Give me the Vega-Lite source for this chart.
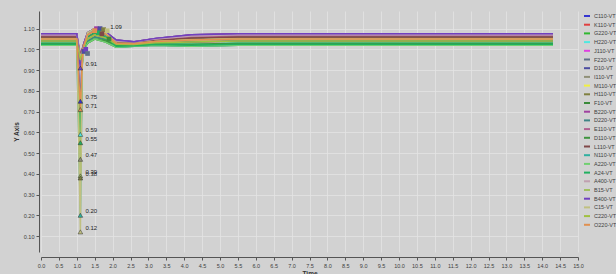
{
  "$schema": "https://vega.github.io/schema/vega-lite/v6.json",
  "autosize": "none",
  "width": 537,
  "height": 241,
  "padding": {"left": 41, "top": 11, "right": 38, "bottom": 22},
  "background": "#d2d2d2",
  "config": {
    "view": {"fill": "#d2d2d2", "stroke": null},
    "font": "Liberation Sans",
    "axis": {"labelFontSize": 5.5, "labelColor": "#404040", "titleFontSize": 6.5, "titleColor": "#333333", "domainColor": "#555555", "tickColor": "#555555", "tickSize": 3, "gridColor": "#e3e3e3", "gridWidth": 0.8, "labelOverlap": false}
  },
  "datasets": {
    "curves": [
      {"t": 0, "C110-VT": 1.05, "K110-VT": 1.04, "G220-VT": 1.03, "H220-VT": 1.03, "J110-VT": 1.07, "F220-VT": 1.07, "D10-VT": 1.075, "I110-VT": 1.06, "M110-VT": 1.05, "H110-VT": 1.06, "F10-VT": 1.02, "B220-VT": 1.075, "D220-VT": 1.04, "E110-VT": 1.065, "D110-VT": 1.03, "L110-VT": 1.06, "N110-VT": 1.02, "A220-VT": 1.02, "A24-VT": 1.025, "A400-VT": 1.07, "B15-VT": 1.05, "B400-VT": 1.075, "C15-VT": 1.05, "C220-VT": 1.04, "O220-VT": 1.05},
      {"t": 1.0, "C110-VT": 1.05, "K110-VT": 1.04, "G220-VT": 1.03, "H220-VT": 1.03, "J110-VT": 1.07, "F220-VT": 1.07, "D10-VT": 1.075, "I110-VT": 1.06, "M110-VT": 1.05, "H110-VT": 1.06, "F10-VT": 1.02, "B220-VT": 1.075, "D220-VT": 1.04, "E110-VT": 1.065, "D110-VT": 1.03, "L110-VT": 1.06, "N110-VT": 1.02, "A220-VT": 1.02, "A24-VT": 1.025, "A400-VT": 1.07, "B15-VT": 1.05, "B400-VT": 1.075, "C15-VT": 1.05, "C220-VT": 1.04, "O220-VT": 1.05},
      {"t": 1.1, "C110-VT": 0.75, "K110-VT": 0.96, "G220-VT": 0.94, "H220-VT": 0.59, "J110-VT": 0.97, "F220-VT": 0.93, "D10-VT": 0.95, "I110-VT": 0.47, "M110-VT": 0.97, "H110-VT": 0.38, "F10-VT": 0.95, "B220-VT": 0.92, "D220-VT": 0.96, "E110-VT": 0.98, "D110-VT": 0.96, "L110-VT": 0.97, "N110-VT": 0.20, "A220-VT": 0.94, "A24-VT": 0.55, "A400-VT": 0.96, "B15-VT": 0.39, "B400-VT": 0.91, "C15-VT": 0.12, "C220-VT": 0.95, "O220-VT": 0.71},
      {"t": 1.15, "C110-VT": 0.96, "K110-VT": 0.99, "G220-VT": 0.98, "H220-VT": 0.95, "J110-VT": 1.0, "F220-VT": 0.97, "D10-VT": 0.99, "I110-VT": 0.94, "M110-VT": 1.0, "H110-VT": 0.93, "F10-VT": 0.98, "B220-VT": 0.97, "D220-VT": 0.99, "E110-VT": 1.0, "D110-VT": 0.99, "L110-VT": 1.0, "N110-VT": 0.92, "A220-VT": 0.98, "A24-VT": 0.94, "A400-VT": 0.99, "B15-VT": 0.93, "B400-VT": 0.97, "C15-VT": 0.92, "C220-VT": 0.98, "O220-VT": 0.95},
      {"t": 1.2, "C110-VT": 1.02, "K110-VT": 1.02, "G220-VT": 1.01, "H220-VT": 1.01, "J110-VT": 1.03, "F220-VT": 1.02, "D10-VT": 1.03, "I110-VT": 1.01, "M110-VT": 1.03, "H110-VT": 1.01, "F10-VT": 1.0, "B220-VT": 1.03, "D220-VT": 1.02, "E110-VT": 1.03, "D110-VT": 1.01, "L110-VT": 1.03, "N110-VT": 1.0, "A220-VT": 1.0, "A24-VT": 1.0, "A400-VT": 1.03, "B15-VT": 1.01, "B400-VT": 1.03, "C15-VT": 1.01, "C220-VT": 1.02, "O220-VT": 1.02},
      {"t": 1.3, "C110-VT": 1.07, "K110-VT": 1.05, "G220-VT": 1.04, "H220-VT": 1.06, "J110-VT": 1.07, "F220-VT": 1.06, "D10-VT": 1.08, "I110-VT": 1.07, "M110-VT": 1.06, "H110-VT": 1.08, "F10-VT": 1.03, "B220-VT": 1.08, "D220-VT": 1.04, "E110-VT": 1.06, "D110-VT": 1.03, "L110-VT": 1.06, "N110-VT": 1.07, "A220-VT": 1.03, "A24-VT": 1.06, "A400-VT": 1.07, "B15-VT": 1.07, "B400-VT": 1.08, "C15-VT": 1.08, "C220-VT": 1.05, "O220-VT": 1.07},
      {"t": 1.5, "C110-VT": 1.09, "K110-VT": 1.07, "G220-VT": 1.06, "H220-VT": 1.08, "J110-VT": 1.09, "F220-VT": 1.08, "D10-VT": 1.10, "I110-VT": 1.09, "M110-VT": 1.08, "H110-VT": 1.10, "F10-VT": 1.05, "B220-VT": 1.10, "D220-VT": 1.06, "E110-VT": 1.08, "D110-VT": 1.05, "L110-VT": 1.08, "N110-VT": 1.09, "A220-VT": 1.05, "A24-VT": 1.08, "A400-VT": 1.09, "B15-VT": 1.09, "B400-VT": 1.10, "C15-VT": 1.10, "C220-VT": 1.07, "O220-VT": 1.09},
      {"t": 1.8, "C110-VT": 1.075, "K110-VT": 1.055, "G220-VT": 1.045, "H220-VT": 1.065, "J110-VT": 1.075, "F220-VT": 1.07, "D10-VT": 1.085, "I110-VT": 1.075, "M110-VT": 1.065, "H110-VT": 1.085, "F10-VT": 1.035, "B220-VT": 1.085, "D220-VT": 1.05, "E110-VT": 1.07, "D110-VT": 1.04, "L110-VT": 1.07, "N110-VT": 1.07, "A220-VT": 1.035, "A24-VT": 1.06, "A400-VT": 1.075, "B15-VT": 1.075, "B400-VT": 1.085, "C15-VT": 1.08, "C220-VT": 1.055, "O220-VT": 1.075},
      {"t": 2.1, "C110-VT": 1.03, "K110-VT": 1.025, "G220-VT": 1.02, "H220-VT": 1.02, "J110-VT": 1.04, "F220-VT": 1.04, "D10-VT": 1.045, "I110-VT": 1.035, "M110-VT": 1.03, "H110-VT": 1.035, "F10-VT": 1.01, "B220-VT": 1.045, "D220-VT": 1.025, "E110-VT": 1.04, "D110-VT": 1.02, "L110-VT": 1.035, "N110-VT": 1.01, "A220-VT": 1.01, "A24-VT": 1.015, "A400-VT": 1.04, "B15-VT": 1.03, "B400-VT": 1.045, "C15-VT": 1.03, "C220-VT": 1.025, "O220-VT": 1.03},
      {"t": 2.6, "C110-VT": 1.027, "K110-VT": 1.023, "G220-VT": 1.019, "H220-VT": 1.019, "J110-VT": 1.035, "F220-VT": 1.035, "D10-VT": 1.037, "I110-VT": 1.031, "M110-VT": 1.027, "H110-VT": 1.031, "F10-VT": 1.015, "B220-VT": 1.037, "D220-VT": 1.023, "E110-VT": 1.033, "D110-VT": 1.019, "L110-VT": 1.031, "N110-VT": 1.015, "A220-VT": 1.015, "A24-VT": 1.017, "A400-VT": 1.035, "B15-VT": 1.027, "B400-VT": 1.037, "C15-VT": 1.027, "C220-VT": 1.023, "O220-VT": 1.027},
      {"t": 3.2, "C110-VT": 1.038, "K110-VT": 1.032, "G220-VT": 1.026, "H220-VT": 1.026, "J110-VT": 1.05, "F220-VT": 1.05, "D10-VT": 1.053, "I110-VT": 1.044, "M110-VT": 1.038, "H110-VT": 1.044, "F10-VT": 1.02, "B220-VT": 1.053, "D220-VT": 1.032, "E110-VT": 1.047, "D110-VT": 1.026, "L110-VT": 1.044, "N110-VT": 1.02, "A220-VT": 1.02, "A24-VT": 1.023, "A400-VT": 1.05, "B15-VT": 1.038, "B400-VT": 1.053, "C15-VT": 1.038, "C220-VT": 1.032, "O220-VT": 1.038},
      {"t": 4.2, "C110-VT": 1.045, "K110-VT": 1.035, "G220-VT": 1.025, "H220-VT": 1.025, "J110-VT": 1.065, "F220-VT": 1.065, "D10-VT": 1.07, "I110-VT": 1.055, "M110-VT": 1.045, "H110-VT": 1.055, "F10-VT": 1.015, "B220-VT": 1.07, "D220-VT": 1.035, "E110-VT": 1.06, "D110-VT": 1.025, "L110-VT": 1.055, "N110-VT": 1.015, "A220-VT": 1.015, "A24-VT": 1.02, "A400-VT": 1.065, "B15-VT": 1.045, "B400-VT": 1.07, "C15-VT": 1.045, "C220-VT": 1.035, "O220-VT": 1.045},
      {"t": 5.5, "C110-VT": 1.05, "K110-VT": 1.04, "G220-VT": 1.03, "H220-VT": 1.03, "J110-VT": 1.07, "F220-VT": 1.07, "D10-VT": 1.075, "I110-VT": 1.06, "M110-VT": 1.05, "H110-VT": 1.06, "F10-VT": 1.02, "B220-VT": 1.075, "D220-VT": 1.04, "E110-VT": 1.065, "D110-VT": 1.03, "L110-VT": 1.06, "N110-VT": 1.02, "A220-VT": 1.02, "A24-VT": 1.025, "A400-VT": 1.07, "B15-VT": 1.05, "B400-VT": 1.075, "C15-VT": 1.05, "C220-VT": 1.04, "O220-VT": 1.05},
      {"t": 14.3, "C110-VT": 1.05, "K110-VT": 1.04, "G220-VT": 1.03, "H220-VT": 1.03, "J110-VT": 1.07, "F220-VT": 1.07, "D10-VT": 1.075, "I110-VT": 1.06, "M110-VT": 1.05, "H110-VT": 1.06, "F10-VT": 1.02, "B220-VT": 1.075, "D220-VT": 1.04, "E110-VT": 1.065, "D110-VT": 1.03, "L110-VT": 1.06, "N110-VT": 1.02, "A220-VT": 1.02, "A24-VT": 1.025, "A400-VT": 1.07, "B15-VT": 1.05, "B400-VT": 1.075, "C15-VT": 1.05, "C220-VT": 1.04, "O220-VT": 1.05}
    ],
    "mins": [
      {"series": "B400-VT", "t": 1.1, "v": 0.91, "label": "0.91"},
      {"series": "C110-VT", "t": 1.1, "v": 0.75, "label": "0.75"},
      {"series": "O220-VT", "t": 1.1, "v": 0.71, "label": "0.71"},
      {"series": "H220-VT", "t": 1.1, "v": 0.59, "label": "0.59"},
      {"series": "A24-VT", "t": 1.1, "v": 0.55, "label": "0.55"},
      {"series": "I110-VT", "t": 1.1, "v": 0.47, "label": "0.47"},
      {"series": "B15-VT", "t": 1.1, "v": 0.39, "label": "0.39"},
      {"series": "H110-VT", "t": 1.1, "v": 0.38, "label": "0.38"},
      {"series": "N110-VT", "t": 1.1, "v": 0.20, "label": "0.20"},
      {"series": "C15-VT", "t": 1.1, "v": 0.12, "label": "0.12"}
    ],
    "peaks": [
      {"series": "B220-VT", "t": 1.55, "v": 1.1, "label": ""},
      {"series": "D10-VT", "t": 1.65, "v": 1.1, "label": ""},
      {"series": "H110-VT", "t": 1.75, "v": 1.095, "label": ""},
      {"series": "C15-VT", "t": 1.85, "v": 1.09, "label": "1.09"},
      {"series": "A24-VT", "t": 1.6, "v": 1.08, "label": ""},
      {"series": "L110-VT", "t": 1.7, "v": 1.075, "label": ""},
      {"series": "O220-VT", "t": 1.5, "v": 1.09, "label": ""},
      {"series": "F10-VT", "t": 1.9, "v": 1.05, "label": ""},
      {"series": "D10-VT", "t": 1.2, "v": 0.99, "label": ""},
      {"series": "B400-VT", "t": 1.25, "v": 1.0, "label": ""},
      {"series": "F220-VT", "t": 1.3, "v": 0.98, "label": ""}
    ]
  },
  "encoding": {
    "x": {"field": "t", "type": "quantitative", "title": "Time", "scale": {"domain": [0, 15], "nice": false}, "axis": {"values": [0,0.5,1,1.5,2,2.5,3,3.5,4,4.5,5,5.5,6,6.5,7,7.5,8,8.5,9,9.5,10,10.5,11,11.5,12,12.5,13,13.5,14,14.5,15], "format": ".1f", "offset": 5, "labelFlush": false, "labelOverlap": false, "labelBound": false, "titlePadding": 2, "labelPadding": 3}},
    "y": {"field": "v", "type": "quantitative", "title": "Y Axis", "scale": {"domain": [0.023, 1.185], "nice": false, "zero": false}, "axis": {"values": [0.1,0.2,0.3,0.4,0.5,0.6,0.7,0.8,0.9,1.0,1.1], "format": ".2f", "offset": 2, "labelOverlap": false, "labelBound": false, "titlePadding": 4, "labelPadding": 2}}
  },
  "layer": [
    {
      "data": {"name": "curves"},
      "transform": [{"fold": ["C110-VT", "K110-VT", "G220-VT", "H220-VT", "J110-VT", "F220-VT", "D10-VT", "I110-VT", "M110-VT", "H110-VT", "F10-VT", "B220-VT", "D220-VT", "E110-VT", "D110-VT", "L110-VT", "N110-VT", "A220-VT", "A24-VT", "A400-VT", "B15-VT", "B400-VT", "C15-VT", "C220-VT", "O220-VT"], "as": ["series", "v"]}],
      "mark": {"type": "line", "strokeWidth": 1.5},
      "encoding": {
        "color": {"field": "series", "type": "nominal", "sort": null,
          "scale": {"domain": ["C110-VT", "K110-VT", "G220-VT", "H220-VT", "J110-VT", "F220-VT", "D10-VT", "I110-VT", "M110-VT", "H110-VT", "F10-VT", "B220-VT", "D220-VT", "E110-VT", "D110-VT", "L110-VT", "N110-VT", "A220-VT", "A24-VT", "A400-VT", "B15-VT", "B400-VT", "C15-VT", "C220-VT", "O220-VT"],
                    "range": ["#3535d0", "#e04040", "#30b830", "#50e8e0", "#e040e0", "#607088", "#4c4ca0", "#909078", "#f0f040", "#808040", "#3a8a3a", "#a040a0", "#3f8585", "#b06090", "#3f953f", "#804848", "#30b0a0", "#70d070", "#20b060", "#c0a0b0", "#a0c060", "#7040c0", "#c0c080", "#a0c040", "#e09050"]},
          "legend": {"orient": "none", "legendX": 542, "legendY": 1, "title": null, "symbolType": "stroke", "symbolSize": 36, "symbolStrokeWidth": 2, "labelFontSize": 5.5, "labelColor": "#404040", "rowPadding": 0.7, "labelOffset": 3, "labelLimit": 60}}
      }
    },
    {
      "data": {"name": "peaks"},
      "mark": {"type": "point", "shape": "square", "filled": true, "size": 22, "opacity": 1},
      "encoding": {
        "color": {"field": "series", "type": "nominal", "legend": null}
      }
    },
    {
      "data": {"name": "peaks"},
      "mark": {"type": "text", "align": "left", "dx": 3, "dy": -4, "fontSize": 6, "color": "#222222"},
      "encoding": {
        "text": {"field": "label"}
      }
    },
    {
      "data": {"name": "mins"},
      "mark": {"type": "point", "shape": "triangle-up", "filled": true, "size": 22, "opacity": 1, "stroke": "#333333", "strokeWidth": 0.5},
      "encoding": {
        "color": {"field": "series", "type": "nominal", "legend": null}
      }
    },
    {
      "data": {"name": "mins"},
      "mark": {"type": "text", "align": "left", "dx": 5, "dy": -4, "fontSize": 6, "color": "#222222"},
      "encoding": {
        "text": {"field": "label"}
      }
    }
  ]
}
